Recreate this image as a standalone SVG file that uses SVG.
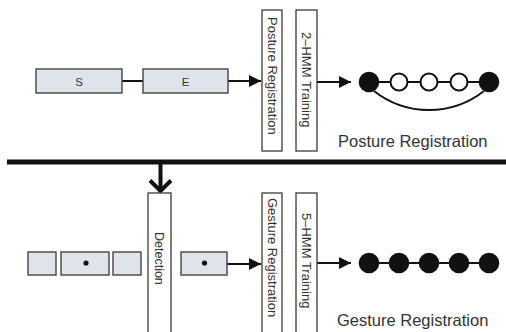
<svg xmlns="http://www.w3.org/2000/svg" width="506" height="332" viewBox="0 0 506 332">
  <defs>
    <marker id="arrowhead" markerUnits="userSpaceOnUse" markerWidth="13" markerHeight="12" refX="12" refY="6" orient="auto">
      <path d="M0,0 L12,6 L0,12 Z" fill="#111"/>
    </marker>
    <style>
      .seg { fill: #dfe3ea; stroke: #444; stroke-width: 1.4; }
      .stage { fill: #fff; stroke: #3a3a3a; stroke-width: 1.3; }
      .lbl { font-family: "Liberation Sans", Arial, sans-serif; fill: #333; }
      .vlbl { font-family: "Liberation Sans", Arial, sans-serif; font-size: 13px; fill: #333; }
      .flow { stroke: #111; stroke-width: 2; fill: none; marker-end: url(#arrowhead); }
      .chain { stroke: #111; stroke-width: 2; fill: none; }
      .state-on { fill: #111; }
      .state-off { fill: #fff; stroke: #111; stroke-width: 2; }
      .dot { fill: #111; }
    </style>
  </defs>

  <!-- connectors -->
  <g id="connectors">
    <line class="chain" x1="122" y1="81" x2="143" y2="81" stroke-width="1.6"/>
    <line class="flow" x1="228" y1="81" x2="261" y2="81"/>
    <line class="flow" x1="317" y1="82" x2="351" y2="82"/>
    <line class="flow" x1="227" y1="264" x2="261" y2="264"/>
    <line class="flow" x1="317" y1="263" x2="351" y2="263"/>
    <!-- divider bar with drop into detection -->
    <line x1="7" y1="162" x2="506" y2="162" stroke="#111" stroke-width="5"/>
    <line x1="160.5" y1="162" x2="160.5" y2="190" stroke="#111" stroke-width="4"/>
    <polyline points="150,180.5 160.5,191 171,180.5" fill="none" stroke="#111" stroke-width="4"/>
  </g>

  <!-- posture path -->
  <g id="seg-s">
    <rect class="seg" x="36" y="69" width="86" height="24"/>
    <text class="lbl" x="79" y="85.5" font-size="11.5" text-anchor="middle">S</text>
  </g>
  <g id="seg-e">
    <rect class="seg" x="143" y="69" width="85" height="24"/>
    <text class="lbl" x="185.5" y="85.5" font-size="11.5" text-anchor="middle">E</text>
  </g>
  <g id="posture-registration">
    <rect class="stage" x="262" y="10" width="20" height="141"/>
    <text class="vlbl" transform="translate(267.5,17) rotate(90)">Posture Registration</text>
  </g>
  <g id="hmm2-training">
    <rect class="stage" x="296" y="10" width="21" height="141"/>
    <text class="vlbl" transform="translate(301.8,32) rotate(90)">2–HMM Training</text>
  </g>
  <g id="posture-model">
    <line class="chain" x1="369" y1="82" x2="489" y2="82"/>
    <path class="chain" d="M374,91 A89,89 0 0 0 484,91" stroke-width="2.5"/>
    <circle class="state-on" cx="369" cy="82" r="10.3"/>
    <circle class="state-off" cx="399" cy="82" r="8.5"/>
    <circle class="state-off" cx="429" cy="82" r="8.5"/>
    <circle class="state-off" cx="459" cy="82" r="8.5"/>
    <circle class="state-on" cx="489" cy="82" r="10.3"/>
    <text class="lbl" x="338" y="147" font-size="16.5">Posture Registration</text>
  </g>

  <!-- gesture path -->
  <g id="seg-1">
    <rect class="seg" x="28" y="252" width="28" height="23"/>
  </g>
  <g id="seg-2">
    <rect class="seg" x="61" y="252" width="48" height="23"/>
    <circle class="dot" cx="86" cy="263" r="2.6"/>
  </g>
  <g id="seg-3">
    <rect class="seg" x="113" y="252" width="28" height="23"/>
  </g>
  <g id="detection">
    <rect class="stage" x="148" y="193" width="23" height="150"/>
    <text class="vlbl" font-size="12.5" transform="translate(154.5,232) rotate(90)" style="font-size:12.5px">Detection</text>
  </g>
  <g id="seg-4">
    <rect class="seg" x="181" y="252" width="46" height="23"/>
    <circle class="dot" cx="204.5" cy="263" r="2.6"/>
  </g>
  <g id="gesture-registration">
    <rect class="stage" x="262" y="193" width="20" height="150"/>
    <text class="vlbl" transform="translate(267.5,198) rotate(90)">Gesture Registration</text>
  </g>
  <g id="hmm5-training">
    <rect class="stage" x="296" y="193" width="21" height="150"/>
    <text class="vlbl" transform="translate(301.8,213) rotate(90)">5–HMM Training</text>
  </g>
  <g id="gesture-model">
    <line class="chain" x1="369" y1="263" x2="489" y2="263"/>
    <circle class="state-on" cx="369" cy="263" r="10.3"/>
    <circle class="state-on" cx="399" cy="263" r="10.3"/>
    <circle class="state-on" cx="429" cy="263" r="10.3"/>
    <circle class="state-on" cx="459" cy="263" r="10.3"/>
    <circle class="state-on" cx="489" cy="263" r="10.3"/>
    <text class="lbl" x="337" y="326" font-size="16.5">Gesture Registration</text>
  </g>
</svg>
